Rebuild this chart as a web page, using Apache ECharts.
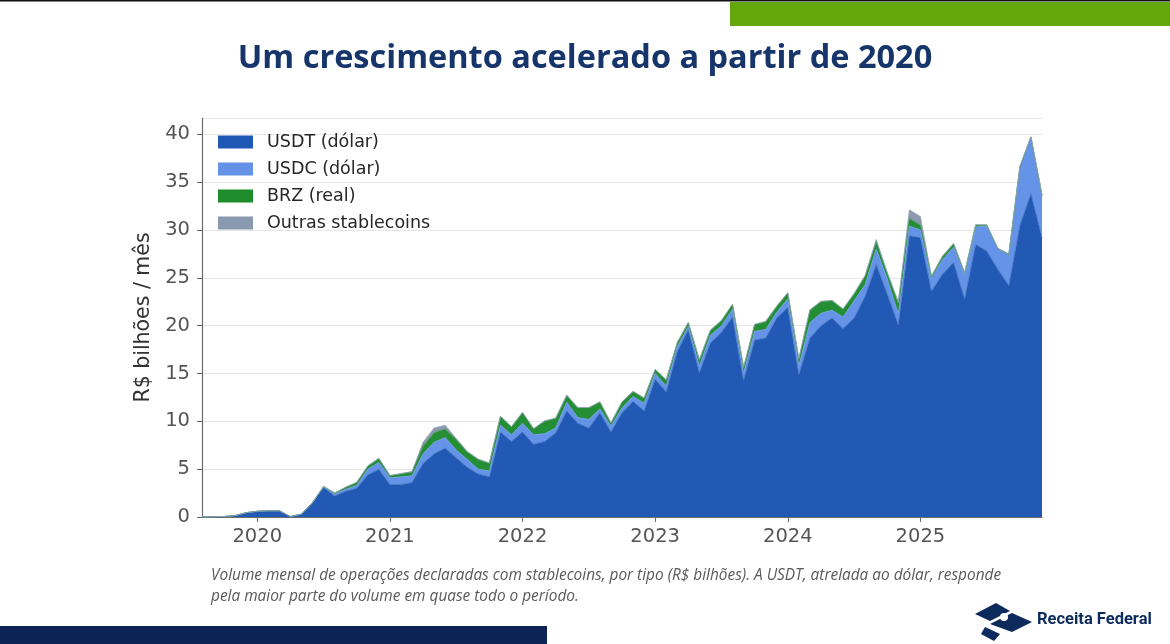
<!DOCTYPE html>
<html>
<head>
<meta charset="utf-8">
<script src="https://cdn.jsdelivr.net/npm/echarts@6/dist/echarts.min.js"></script>
<style>
html,body{margin:0;padding:0;background:#fff;}
#chart{width:1170px;height:644px;}
</style>
</head>
<body>
<div id="chart"></div>
<script>
// Months Aug 2019 .. Dec 2025
const months = [];
(function(){ let y=2019, m=8; while (y<2025 || (y===2025 && m<=12)) { months.push(y+'-'+String(m).padStart(2,'0')); m++; if(m>12){m=1;y++;} } })();

const seriesNames = ['USDT (dólar)','USDC (dólar)','BRZ (real)','Outras stablecoins'];

// R$ bilhões por mês
const usdt = [
  0, 0.02, 0.05, 0.15, 0.45,                                   // 2019 Aug-Dec
  0.6, 0.65, 0.65, 0.05, 0.3, 1.5, 3.1, 2.2, 2.7, 3.0, 4.4, 5.0, // 2020
  3.4, 3.4, 3.6, 5.6, 6.6, 7.2, 6.2, 5.2, 4.5, 4.2, 8.9, 7.9,   // 2021
  8.9, 7.6, 7.9, 8.8, 11.1, 9.8, 9.3, 10.9, 8.9, 10.9, 12.1, 11.1, // 2022
  14.4, 13.1, 17.3, 19.6, 15.1, 18.2, 19.3, 20.9, 14.3, 18.5, 18.7, 20.8, // 2023
  21.9, 14.9, 18.7, 20.0, 20.8, 19.7, 20.8, 23.1, 26.4, 23.3, 20.1, 29.4, // 2024
  29.2, 23.6, 25.4, 26.6, 22.8, 28.5, 27.8, 25.9, 24.2, 30.5, 33.8, 29.2  // 2025
];
const usdc = [
  0, 0, 0, 0, 0,
  0, 0, 0, 0, 0, 0, 0.05, 0.2, 0.2, 0.3, 0.6, 0.7,
  0.7, 0.8, 0.7, 1.0, 1.2, 1.1, 0.8, 0.8, 0.5, 0.6, 0.7, 0.7,
  0.9, 1.0, 0.8, 0.5, 0.9, 0.6, 0.9, 0.4, 0.6, 0.5, 0.5, 0.8,
  0.6, 0.6, 0.5, 0.3, 0.7, 0.8, 0.7, 0.8, 0.7, 0.9, 0.9, 0.6,
  0.9, 0.9, 1.6, 1.3, 0.8, 1.2, 1.8, 1.2, 1.6, 1.6, 1.1, 1.0,
  0.8, 1.3, 1.5, 1.6, 2.5, 1.8, 2.6, 2.1, 3.2, 6.1, 5.9, 4.4
];
const brz = [
  0, 0, 0, 0, 0,
  0, 0, 0, 0, 0, 0, 0.05, 0.1, 0.2, 0.3, 0.3, 0.4,
  0.2, 0.3, 0.4, 0.8, 1.0, 0.9, 1.1, 0.8, 1.0, 0.8, 0.9, 0.8,
  1.1, 0.6, 1.3, 1.0, 0.7, 1.0, 1.2, 0.7, 0.3, 0.6, 0.5, 0.5,
  0.4, 0.6, 0.4, 0.4, 0.6, 0.5, 0.5, 0.5, 0.6, 0.7, 0.8, 0.6,
  0.6, 0.7, 1.3, 1.2, 1.0, 0.8, 0.7, 0.9, 0.8, 0.6, 1.2, 0.8,
  0.5, 0.2, 0.3, 0.3, 0.2, 0.2, 0.1, 0.05, 0.05, 0, 0, 0
];
const outras = [
  0, 0, 0, 0, 0,
  0, 0, 0, 0, 0, 0, 0, 0.02, 0.02, 0.03, 0.05, 0.05,
  0.05, 0.05, 0.05, 0.4, 0.5, 0.4, 0.1, 0.05, 0.05, 0.05, 0.05, 0.05,
  0.05, 0.05, 0.05, 0.05, 0.05, 0.05, 0.05, 0.05, 0.05, 0.05, 0.05, 0.05,
  0.05, 0.05, 0.05, 0.05, 0.05, 0.05, 0.05, 0.05, 0.05, 0.05, 0.05, 0.05,
  0.05, 0.05, 0.05, 0.05, 0.05, 0.05, 0.05, 0.05, 0.2, 0.05, 0.05, 0.9,
  0.9, 0.1, 0.1, 0.1, 0.05, 0.05, 0.05, 0.05, 0.05, 0.05, 0.05, 0.05
];

const yTicks = [0,5,10,15,20,25,30,35,40];
const yMax = 41.7;

const colors = ['#1650b1', '#5d8de6', '#178829', '#8595aa'];
const legendColors = ['#2058b5', '#6492e6', '#1f8c2c', '#8a9aae'];
const edgeColors = ['#4273c2', '#74a0ea', '#36984a', '#97a5b8'];

const chart = echarts.init(document.getElementById('chart'), null, {renderer:'canvas'});

const seriesData = [usdt, usdc, brz, outras];
const series = seriesData.map((d, i) => ({
  name: seriesNames[i],
  type: 'line',
  stack: 'total',
  data: d,
  symbol: 'none',
  smooth: false,
  lineStyle: { width: 0.8, color: edgeColors[i] },
  itemStyle: { color: legendColors[i] },
  areaStyle: { color: colors[i], opacity: 0.95 },
  z: 2
}));

const option = {
  animation: false,
  backgroundColor: '#ffffff',
  title: {
    text: 'Um crescimento acelerado a partir de 2020',
    left: 'center',
    top: 37,
    textStyle: { fontFamily: 'Open Sans', fontWeight: 700, fontSize: 32.5, color: '#16356b' }
  },
  legend: {
    orient: 'vertical',
    left: 218,
    top: 133,
    padding: 0,
    itemWidth: 35,
    itemHeight: 13,
    itemGap: 9,
    icon: 'rect',
    data: seriesNames,
    textStyle: { fontFamily: 'DejaVu Sans', fontSize: 17.5, color: '#262626', padding: [0,0,0,9] },
    itemStyle: { borderWidth: 0 }
  },
  grid: { left: 202, right: 128, top: 118, bottom: 127, containLabel: false },
  xAxis: {
    type: 'category',
    data: months,
    boundaryGap: false,
    axisLine: { show: true, lineStyle: { color: '#6b6b6b', width: 1.2 } },
    axisTick: {
      show: true, length: 5, inside: false,
      interval: (idx, val) => val.endsWith('-01'),
      lineStyle: { color: '#6b6b6b' }
    },
    axisLabel: {
      interval: (idx, val) => val.endsWith('-01'),
      formatter: v => v.slice(0,4),
      fontFamily: 'DejaVu Sans', fontSize: 19.5, color: '#555555', margin: 10
    },
    splitLine: { show: false }
  },
  yAxis: {
    type: 'value',
    min: 0,
    max: yMax,
    interval: 5,
    name: 'R$ bilhões / mês',
    nameLocation: 'middle',
    nameGap: 42,
    nameRotate: 90,
    nameTextStyle: { fontFamily: 'DejaVu Sans', fontSize: 20.5, color: '#333333' },
    axisLine: { show: true, lineStyle: { color: '#6b6b6b', width: 1.2 } },
    axisTick: { show: true, length: 5, lineStyle: { color: '#6b6b6b' } },
    axisLabel: {
      showMaxLabel: false,
      formatter: v => (yTicks.indexOf(v) >= 0 ? String(v) : ''),
      fontFamily: 'DejaVu Sans', fontSize: 19.5, color: '#555555', margin: 12
    },
    splitLine: { show: true, lineStyle: { color: '#e6e6e6', width: 1 } }
  },
  series: series,
  graphic: [
    { type: 'rect', shape: { x: 0, y: 0, width: 1170, height: 1.5 }, style: { fill: '#111111' } },
    { type: 'rect', shape: { x: 730, y: 2, width: 440, height: 24 }, style: { fill: '#64a70b' } },
    { type: 'rect', shape: { x: 0, y: 626, width: 547, height: 18 }, style: { fill: '#0b2455' } },
    { type: 'text', left: 211, top: 565, style: {
        text: 'Volume mensal de operações declaradas com stablecoins, por tipo (R$ bilhões). A USDT, atrelada ao dólar, responde\npela maior parte do volume em quase todo o período.',
        font: 'italic 15.4px "Open Sans"', fill: '#595959', lineHeight: 21 } },
    // logo
    { type: 'polygon', shape: { points: [[975,614],[996,603],[1010,611],[990,621]] }, style: { fill: '#0c2a5c' } },
    { type: 'polygon', shape: { points: [[990,624],[1012,613],[1032,622],[1012,632]] }, style: { fill: '#0c2a5c' } },
    { type: 'polygon', shape: { points: [[985,627],[1000,634],[994,641],[981,634]] }, style: { fill: '#0c2a5c' } },
    { type: 'circle', shape: { cx: 1004, cy: 617, r: 4 }, style: { fill: '#ffffff' } },
    { type: 'text', left: 1037, top: 611, style: { text: 'Receita Federal', font: 'bold 16.5px "Liberation Sans Narrow", "Roboto"', fill: '#0c2a5c' } }
  ]
};
chart.setOption(option);
</script>
</body>
</html>
